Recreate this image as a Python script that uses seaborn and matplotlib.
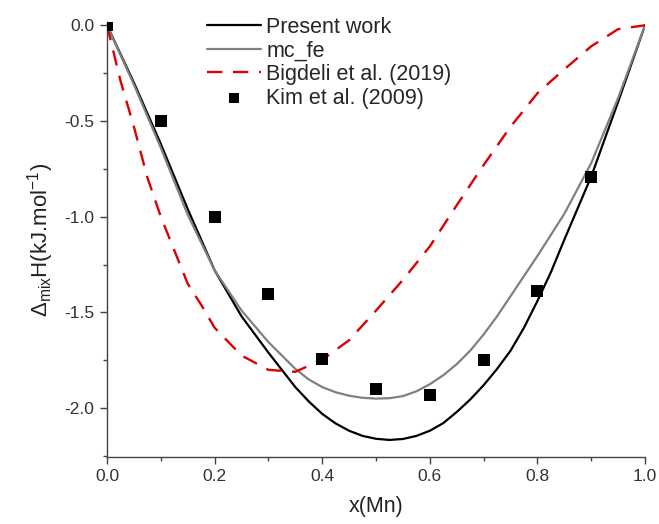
import numpy as np
import pandas as pd
import matplotlib
matplotlib.use("Agg")
import matplotlib.pyplot as plt
from matplotlib.ticker import MultipleLocator
import seaborn as sns

# Present work (black)
x_pw = [0.0, 0.05, 0.1, 0.15, 0.2, 0.25, 0.3, 0.35, 0.375, 0.4, 0.425, 0.45, 0.475, 0.5,
        0.525, 0.55, 0.575, 0.6, 0.625, 0.65, 0.675, 0.7, 0.725, 0.75, 0.775, 0.8,
        0.825, 0.85, 0.9, 0.95, 1.0]
present_work = [0.0, -0.30, -0.62, -0.96, -1.28, -1.52, -1.71, -1.89, -1.965, -2.03, -2.08,
                -2.118, -2.145, -2.16, -2.166, -2.161, -2.145, -2.118, -2.078, -2.02, -1.955,
                -1.88, -1.795, -1.70, -1.58, -1.44, -1.29, -1.12, -0.79, -0.40, 0.0]

# mc_fe (grey)
x_mc = [0.0, 0.05, 0.1, 0.15, 0.2, 0.25, 0.3, 0.35, 0.375, 0.4, 0.425, 0.45, 0.475, 0.5,
        0.525, 0.55, 0.575, 0.6, 0.625, 0.65, 0.675, 0.7, 0.725, 0.75, 0.775, 0.8,
        0.825, 0.85, 0.9, 0.95, 1.0]
mc_fe = [0.0, -0.31, -0.64, -0.99, -1.28, -1.49, -1.655, -1.795, -1.85, -1.89, -1.917,
         -1.935, -1.946, -1.95, -1.948, -1.937, -1.912, -1.875, -1.828, -1.77, -1.70,
         -1.615, -1.52, -1.415, -1.31, -1.205, -1.095, -0.985, -0.72, -0.38, 0.0]

# Bigdeli et al. (2019)
x_bigdeli = [0.0, 0.025, 0.05, 0.075, 0.1, 0.125, 0.15, 0.175, 0.2, 0.25, 0.3, 0.35,
             0.4, 0.45, 0.5, 0.55, 0.6, 0.65, 0.7, 0.75, 0.8, 0.85, 0.9, 0.95, 1.0]
bigdeli = [0.0, -0.29, -0.53, -0.795, -1.00, -1.175, -1.35, -1.46, -1.58, -1.725, -1.80, -1.81,
           -1.747, -1.645, -1.49, -1.33, -1.155, -0.94, -0.73, -0.53, -0.355, -0.23, -0.11, -0.02, 0.0]

# Kim et al. (2009)
x_kim = [0.0, 0.1, 0.2, 0.3, 0.4, 0.5, 0.6, 0.7, 0.8, 0.9]
kim = [0.0, -0.50, -1.00, -1.405, -1.743, -1.90, -1.93, -1.75, -1.39, -0.79]

df_pw = pd.DataFrame({"x": x_pw, "y": present_work})
df_mc = pd.DataFrame({"x": x_mc, "y": mc_fe})
df_big = pd.DataFrame({"x": x_bigdeli, "y": bigdeli})
df_kim = pd.DataFrame({"x": x_kim, "y": kim})

sns.set_style("ticks")
plt.rcParams["font.family"] = ["Liberation Sans", "DejaVu Sans"]
plt.rcParams["mathtext.fontset"] = "custom"
plt.rcParams["mathtext.rm"] = "Liberation Sans"
plt.rcParams["mathtext.it"] = "Liberation Sans:italic"
plt.rcParams["axes.unicode_minus"] = False

fig = plt.figure(figsize=(6.59, 5.24), dpi=100)
ax = fig.add_axes([0.1624, 0.1279, 0.8164, 0.8301])

sns.lineplot(data=df_pw, x="x", y="y", color="black", lw=1.6, ax=ax,
             label="Present work", sort=False)
sns.lineplot(data=df_mc, x="x", y="y", color="#808080", lw=1.6, ax=ax,
             label="mc_fe", sort=False)
sns.lineplot(data=df_big, x="x", y="y", color="#dd0000", lw=1.7, ax=ax,
             label="Bigdeli et al. (2019)", sort=False)
ax.lines[-1].set_dashes((6.5, 4.5))
sns.scatterplot(data=df_kim, x="x", y="y", marker="s", s=64, color="black",
                edgecolor="black", linewidth=0, ax=ax, label="Kim et al. (2009)", zorder=5)

ax.set_xlim(0, 1.0)
ax.set_ylim(-2.255, 0.017)
ax.xaxis.set_major_locator(MultipleLocator(0.2))
ax.xaxis.set_minor_locator(MultipleLocator(0.1))
ax.yaxis.set_major_locator(MultipleLocator(0.5))
ax.yaxis.set_minor_locator(MultipleLocator(0.25))
ax.xaxis.set_major_formatter(plt.FormatStrFormatter("%.1f"))
ax.yaxis.set_major_formatter(plt.FormatStrFormatter("%.1f"))

for s in ["top", "right"]:
    ax.spines[s].set_visible(False)
for s in ["left", "bottom"]:
    ax.spines[s].set_color("#444444")
    ax.spines[s].set_linewidth(1.0)
ax.tick_params(which="major", direction="out", length=5, width=1, color="#444444",
               labelsize=12.5, labelcolor="#333333", pad=4)
ax.tick_params(which="minor", direction="out", length=3, width=1, color="#444444")

ax.set_xlabel("x(Mn)", fontsize=15.5, color="#222222", labelpad=8)
ax.set_ylabel(r"$\Delta_{\rm mix}$H(kJ.mol$^{-1}$)", fontsize=16, color="#222222", labelpad=6)

leg = ax.legend(loc="upper left", bbox_to_anchor=(0.186, 1.012), frameon=False,
                fontsize=15.5, handlelength=2.5, handletextpad=0.25, labelspacing=0.12,
                borderpad=0, borderaxespad=0, markerscale=0.9)

fig.savefig("out.png", dpi=100)
